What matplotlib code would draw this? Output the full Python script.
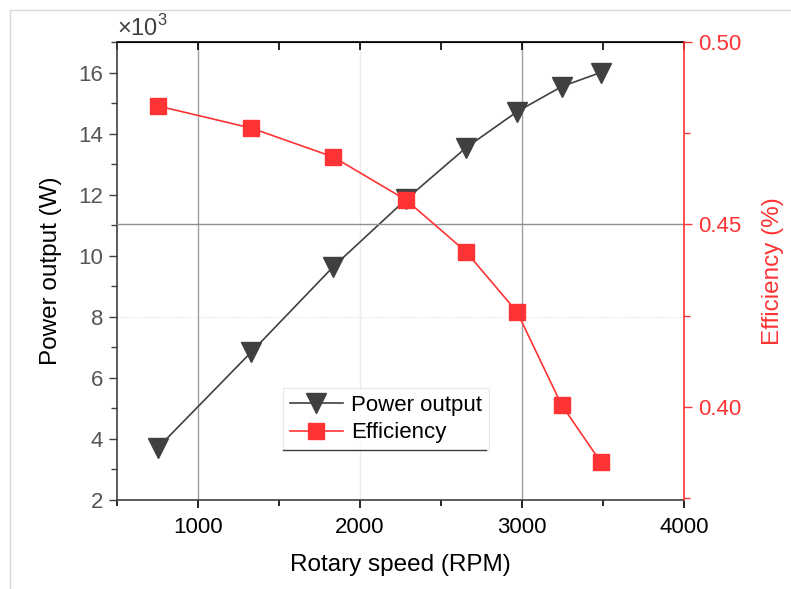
import matplotlib
matplotlib.use("Agg")
from matplotlib import pyplot as plt
from matplotlib.lines import Line2D
from matplotlib.ticker import MultipleLocator
import numpy as np

plt.rcParams['font.family'] = ['Liberation Sans', 'DejaVu Sans']
plt.rcParams['mathtext.fontset'] = 'custom'
plt.rcParams['mathtext.rm'] = 'Liberation Sans'

# data
rpm = [750, 1330, 1835, 2285, 2655, 2970, 3245, 3485]
power_w = [3700, 6850, 9640, 11850, 13540, 14720, 15540, 16000]
efficiency = [0.4825, 0.4764, 0.4685, 0.4567, 0.4425, 0.426, 0.4005, 0.385]

grey = '#404040'
red = '#ff3333'

fig = plt.figure(figsize=(7.91, 5.89), dpi=100)
ax = fig.add_axes([117/791, 89/589, 567/791, 458/589])
ax2 = ax.twinx()

# grid lines like the original
for gx, c in [(1000, '#a0a0a0'), (3000, '#a0a0a0'), (2000, '#ececec')]:
    ax.axvline(gx, color=c, lw=1, zorder=0)
ax.axhline(8, color='#dddddd', lw=0.8, ls=':', zorder=0)
ax2.axhline(0.45, color='#909090', lw=1, zorder=0)

p = np.array(power_w) / 1000.0
l1, = ax.plot(rpm, p, color=grey, lw=1.2, marker='v', ms=15,
              mfc=grey, mec=grey, label='Power output', zorder=3)
l2, = ax2.plot(rpm, efficiency, color=red, lw=1.2, marker='s', ms=12,
               mfc=red, mec=red, label='Efficiency', zorder=3)

ax.set_xlim(500, 4000)
ax.set_ylim(2, 17)
ax2.set_ylim(0.3745, 0.50)

ax.xaxis.set_major_locator(MultipleLocator(1000))
ax.xaxis.set_minor_locator(MultipleLocator(500))
ax.yaxis.set_major_locator(MultipleLocator(2))
ax.yaxis.set_minor_locator(MultipleLocator(1))
ax2.yaxis.set_major_locator(MultipleLocator(0.05))
ax2.yaxis.set_minor_locator(MultipleLocator(0.025))
ax2.yaxis.set_major_formatter(matplotlib.ticker.FormatStrFormatter('%.2f'))

ax.tick_params(axis='x', which='major', direction='out', length=6, width=1.2,
               labelsize=16, colors='black', pad=6)
ax.tick_params(axis='x', which='minor', direction='out', length=4, width=1.2)
ax.tick_params(axis='y', which='major', direction='out', length=6, width=1,
               labelsize=16, colors=grey, labelcolor='#555555', pad=4)
ax.tick_params(axis='y', which='minor', direction='out', length=4, width=1, colors=grey)
ax2.tick_params(axis='y', which='major', direction='out', length=6, width=1,
                colors=red, labelsize=16, pad=4)
ax2.tick_params(axis='y', which='minor', direction='out', length=4, width=1, colors=red)

# top ticks point inward
sec = ax.secondary_xaxis('top')
sec.xaxis.set_major_locator(MultipleLocator(500))
sec.tick_params(axis='x', direction='in', length=6, width=1.2, labeltop=False)
sec.spines['top'].set_color('black')
sec.spines['top'].set_linewidth(1.2)

for s in ['left', 'bottom']:
    ax.spines[s].set_color(grey)
    ax.spines[s].set_linewidth(1.2)
ax2.spines['right'].set_color(red)
ax2.spines['right'].set_linewidth(1.2)
ax2.spines['left'].set_visible(False)
ax2.spines['top'].set_visible(False)
ax2.spines['bottom'].set_visible(False)
ax.spines['right'].set_visible(False)

ax.set_xlabel('Rotary speed (RPM)', fontsize=17.5, labelpad=12)
ax.set_ylabel('Power output (W)', fontsize=17.5, labelpad=12)
ax2.set_ylabel('Efficiency (%)', fontsize=17.5, color=red, labelpad=15)

fig.text(117/791, 1 - 36/589, r'×10$^{3}$', fontsize=17, color=grey)

leg = ax.legend([l1, l2], ['Power output', 'Efficiency'], loc='upper left',
                bbox_to_anchor=(0.293, 0.2445), borderaxespad=0, fontsize=16,
                handlelength=2.4, handletextpad=0.35, labelspacing=0.3,
                fancybox=False, frameon=True, borderpad=0.3)
leg.get_frame().set_edgecolor('#e0e0e0')
leg.get_frame().set_linewidth(0.8)
leg.set_zorder(5)
fig.add_artist(Line2D([283/791, 486/791], [1 - 450/589] * 2, color=grey, lw=1))

# light frame around the picture
fig.add_artist(Line2D([10/791, 10/791], [0, 1 - 10/589], color='#d8d8d8', lw=1))
fig.add_artist(Line2D([10/791, 1], [1 - 10/589] * 2, color='#d8d8d8', lw=1))

fig.savefig('out.png', dpi=100)
